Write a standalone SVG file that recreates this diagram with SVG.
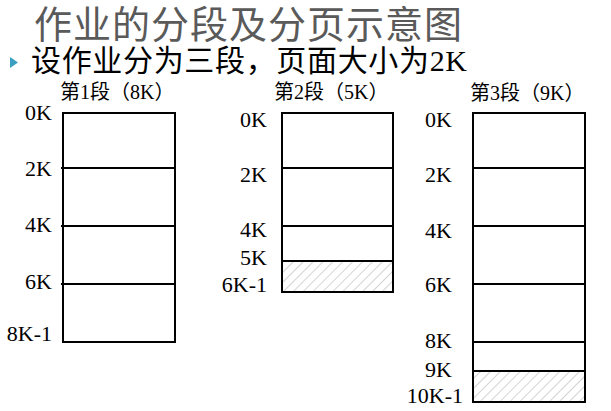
<svg xmlns="http://www.w3.org/2000/svg" width="611" height="411" viewBox="0 0 611 411">
<defs>
<pattern id="hatch" patternUnits="userSpaceOnUse" width="7" height="7" patternTransform="rotate(45)">
<rect width="7" height="7" fill="#ffffff"/>
<line x1="0" y1="0" x2="0" y2="7" stroke="#d4d4d4" stroke-width="2"/>
</pattern>
</defs>
<style>
.box{fill:#ffffff;stroke:#000;stroke-width:2}
.hatch{fill:url(#hatch);stroke:#000;stroke-width:2}
.div{stroke:#000;stroke-width:2}
.lbl{font-family:"Liberation Serif","Noto Sans CJK SC",serif;font-size:22px;fill:#000;text-anchor:end}
.ttl{font-family:"Liberation Serif","Noto Sans CJK SC",serif;font-size:20px;fill:#000}
</style>
<rect width="611" height="411" fill="#ffffff"/>
<g id="heading">
<text x="34" y="38" font-family="'Noto Sans CJK SC',sans-serif" font-size="38" fill="#5a5a5a" textLength="428" lengthAdjust="spacing">作业的分段及分页示意图</text>
</g>
<g id="subtitle">
<polygon points="10,57 18,62.5 10,68" fill="#3a9fc0"/>
<text x="31" y="71" font-family="'Liberation Serif','Noto Sans CJK SC',serif" font-size="30" fill="#000" textLength="436" lengthAdjust="spacing">设作业分为三段，页面大小为2K</text>
</g>
<g id="seg1">
<text class="ttl" x="60" y="99">第1段（8K）</text>
<rect class="box" x="63" y="113" width="112" height="229"/>
<line class="div" x1="61" y1="168" x2="175" y2="168"/>
<line class="div" x1="61" y1="226" x2="175" y2="226"/>
<line class="div" x1="61" y1="284" x2="175" y2="284"/>
<text class="lbl" x="52" y="120">0K</text>
<text class="lbl" x="52" y="176">2K</text>
<text class="lbl" x="52" y="232">4K</text>
<text class="lbl" x="52" y="289">6K</text>
<text class="lbl" x="52" y="341">8K-1</text>
</g>
<g id="seg2">
<text class="ttl" x="274" y="99">第2段（5K）</text>
<rect class="box" x="282" y="113" width="111" height="148"/>
<rect class="hatch" x="282" y="261" width="111" height="31"/>
<line class="div" x1="282" y1="168" x2="393" y2="168"/>
<line class="div" x1="282" y1="226" x2="393" y2="226"/>
<text class="lbl" x="267" y="127">0K</text>
<text class="lbl" x="267" y="182">2K</text>
<text class="lbl" x="267" y="237">4K</text>
<text class="lbl" x="267" y="265">5K</text>
<text class="lbl" x="267" y="292">6K-1</text>
</g>
<g id="seg3">
<text class="ttl" x="470" y="100">第3段（9K）</text>
<rect class="box" x="473" y="113" width="112" height="258"/>
<rect class="hatch" x="473" y="371" width="112" height="31"/>
<line class="div" x1="473" y1="168" x2="585" y2="168"/>
<line class="div" x1="473" y1="226" x2="585" y2="226"/>
<line class="div" x1="473" y1="284" x2="585" y2="284"/>
<line class="div" x1="473" y1="342" x2="585" y2="342"/>
<text class="lbl" x="452" y="127">0K</text>
<text class="lbl" x="452" y="182">2K</text>
<text class="lbl" x="452" y="238">4K</text>
<text class="lbl" x="452" y="292">6K</text>
<text class="lbl" x="452" y="348">8K</text>
<text class="lbl" x="452" y="377">9K</text>
<text class="lbl" x="463" y="403">10K-1</text>
</g>
</svg>
